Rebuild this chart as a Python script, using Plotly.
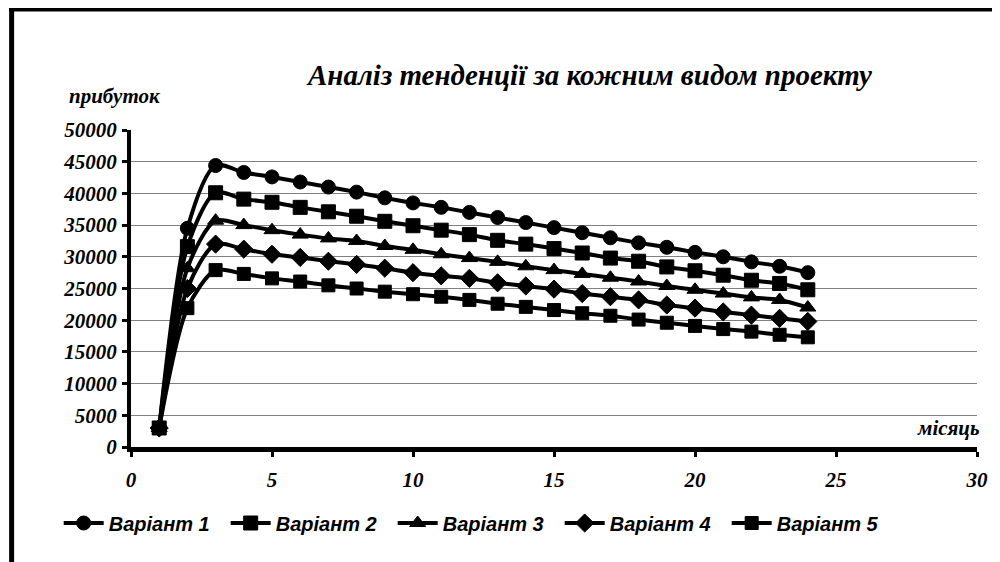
import plotly.graph_objects as go

months = list(range(1, 25))
variant_1 = [3000, 34500, 44400, 43300, 42600, 41800, 41000, 40200, 39300, 38500, 37800, 37000,
             36200, 35400, 34600, 33800, 33000, 32200, 31500, 30700, 30000, 29200, 28500, 27500]
variant_2 = [3000, 31600, 40100, 39100, 38600, 37800, 37100, 36400, 35600, 34900, 34200, 33500,
             32600, 32000, 31300, 30600, 29800, 29300, 28400, 27800, 27100, 26300, 25800, 24800]
variant_3 = [3000, 28200, 35700, 35000, 34200, 33500, 32900, 32500, 31700, 31100, 30400, 29800,
             29200, 28500, 27900, 27300, 26700, 26100, 25400, 24800, 24200, 23600, 23200, 22000]
variant_4 = [3000, 25000, 32000, 31200, 30400, 29900, 29300, 28800, 28200, 27500, 27000, 26600,
             25900, 25400, 24900, 24200, 23700, 23200, 22400, 21900, 21300, 20800, 20300, 19800]
variant_5 = [3000, 21900, 27900, 27300, 26600, 26100, 25500, 25000, 24500, 24100, 23700, 23200,
             22600, 22100, 21600, 21100, 20700, 20100, 19600, 19100, 18600, 18200, 17700, 17300]

names = ["Варіант 1", "Варіант 2", "Варіант 3", "Варіант 4", "Варіант 5"]
series = [variant_1, variant_2, variant_3, variant_4, variant_5]
symbols = ["circle", "square", "triangle-up", "diamond", "square"]
sizes = [14, 14, 14, 14, 13]

title_text = "Аналіз тенденції за кожним видом проекту"
y_title = "прибуток"
x_title = "місяць"

serif = "Liberation Serif"
sans = "Liberation Sans"

fig = go.Figure()
for name, vals, sym, sz in zip(names, series, symbols, sizes):
    fig.add_trace(go.Scatter(
        x=months, y=vals, name=name, mode="lines+markers",
        line=dict(color="black", width=4, shape="spline", smoothing=0.8),
        marker=dict(symbol=sym, size=sz, color="black", line=dict(color="black", width=1)),
    ))

# page body has an 8px margin: figure coordinates = screen coordinates - 8
OFF = 8
W, H = 992, 554
L, T = 131 - OFF, 130 - OFF
RIGHT_EDGE, BOTTOM_EDGE = 985 - OFF, 447 - OFF
R, B = W - RIGHT_EDGE, H - BOTTOM_EDGE
pw, ph = W - L - R, H - T - B


def px(x):
    return (x - OFF - L) / pw


def py(y):
    return (H - B - (y - OFF)) / ph


tickfont = dict(family=serif, size=21, weight="bold", style="italic", color="black")

fig.update_layout(
    width=W, height=H,
    margin=dict(l=L, r=R, t=T, b=B),
    paper_bgcolor="white", plot_bgcolor="white",
    font=dict(family=serif, color="black", size=20, weight="bold", style="italic"),
    showlegend=True,
    legend=dict(orientation="h", x=px(58), xanchor="left", y=py(523), yanchor="middle",
                font=dict(family=sans, size=20, weight="bold", style="italic", color="black"),
                entrywidth=112, entrywidthmode="pixels", itemwidth=40,
                bgcolor="rgba(0,0,0,0)"),
    xaxis=dict(range=[0, 30], tickvals=[0, 5, 10, 15, 20, 25, 30], showgrid=False, zeroline=False,
               showline=True, linecolor="black", linewidth=5, ticks="outside", ticklen=5,
               tickwidth=3, tickcolor="black", ticklabelstandoff=5, tickfont=tickfont),
    yaxis=dict(range=[0, 50000], dtick=5000, tickformat="d", showgrid=True, gridcolor="#808080",
               gridwidth=1, zeroline=False, showline=True, linecolor="black", linewidth=4,
               ticks="outside", ticklen=5, tickwidth=3, tickcolor="black", ticklabelstandoff=1,
               tickfont=tickfont),
    annotations=[
        dict(text=title_text, xref="paper", yref="paper", x=px(593), y=py(75), xanchor="center",
             yanchor="middle", showarrow=False,
             font=dict(family=serif, size=29, weight="bold", style="italic", color="black")),
        dict(text=y_title, xref="paper", yref="paper", x=px(66), y=py(96), xanchor="left",
             yanchor="middle", showarrow=False,
             font=dict(family=serif, size=21, weight="bold", style="italic", color="black")),
        dict(text=x_title, xref="paper", yref="paper", x=px(990), y=py(428), xanchor="right",
             yanchor="middle", showarrow=False,
             font=dict(family=serif, size=21, weight="bold", style="italic", color="black")),
    ],
    shapes=[
        dict(type="line", xref="paper", yref="paper", x0=px(8), x1=px(1010), y0=py(9.5), y1=py(9.5),
             line=dict(color="black", width=4)),
        dict(type="line", xref="paper", yref="paper", x0=px(10.5), x1=px(10.5), y0=py(8), y1=py(580),
             line=dict(color="black", width=5)),
    ],
)

fig.write_html("out.html")
